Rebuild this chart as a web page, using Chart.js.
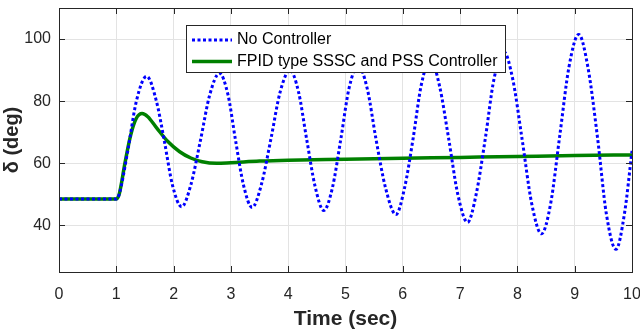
<!DOCTYPE html>
<html>
<head>
<meta charset="utf-8">
<script src="https://cdn.jsdelivr.net/npm/chart.js@4/dist/chart.umd.min.js"></script>
<style>
  html, body { margin: 0; padding: 0; background: #fff; }
  #wrap { width: 640px; height: 332px; }
</style>
</head>
<body>
<div id="wrap"><canvas id="rotor"></canvas></div>
<script>
// values
var noCtrlTime = [0, 1.0, 1.05, 1.2, 1.35, 1.53, 1.7, 1.84, 1.98, 2.14, 2.3, 2.47, 2.63, 2.8, 2.95,
    3.08, 3.22, 3.37, 3.53, 3.7, 3.86, 4.03, 4.18, 4.32, 4.47, 4.62, 4.77, 4.92, 5.06, 5.22,
    5.38, 5.53, 5.7, 5.88, 6.03, 6.18, 6.32, 6.48, 6.64, 6.8, 6.96, 7.13, 7.28, 7.44, 7.59,
    7.76, 7.92, 8.08, 8.25, 8.42, 8.58, 8.74, 8.9, 9.07, 9.23, 9.4, 9.55, 9.72, 9.87, 10.0];
var noCtrlDelta = [48.5, 48.5, 50, 64, 80, 88, 80, 67, 53, 46, 53, 67.5, 82, 89, 82,
    67.5, 53, 45.8, 53, 68, 83, 90, 83, 68, 52.5, 44.8, 52, 68, 84, 91.5,
    84, 68, 52, 43.5, 52, 68, 85, 93.5, 85, 68, 50, 41, 50, 68, 87,
    96, 87, 68, 47, 37.3, 47, 69, 91, 101.5, 91, 68, 44, 32.3, 44, 64];

var fpidTime = [0, 1.0, 1.05, 1.15, 1.25, 1.35, 1.45, 1.55, 1.7, 1.9, 2.1, 2.3, 2.5, 2.75,
    3.0, 3.5, 4.0, 5.0, 6.0, 7.0, 8.0, 9.0, 10.0];
var fpidDelta = [48.5, 48.5, 50, 60, 69, 74.5, 76, 75, 71.5, 67, 63.8, 61.7, 60.5, 60,
    60.2, 60.7, 61, 61.3, 61.6, 61.9, 62.2, 62.5, 62.7];

var seriesNames = ['No Controller', 'FPID type SSSC and PSS Controller'];
var xTicks = [0, 1, 2, 3, 4, 5, 6, 7, 8, 9, 10];
var yTicks = [40, 60, 80, 100];

function toPoints(xs, ys) {
    var pts = [];
    for (var i = 0; i < xs.length; i++) {
        pts.push({x: xs[i], y: ys[i]});
    }
    return pts;
}

var axisColor = '#262626';
var fontFam = '"Liberation Sans", Arial, sans-serif';

// MATLAB style box: frame plus inward tick marks
var boxPlugin = {
    id: 'box',
    afterDatasetsDraw: function(chart) {
        var ctx = chart.ctx, a = chart.chartArea;
        var xs = chart.scales.x, ys = chart.scales.y;
        ctx.save();
        ctx.strokeStyle = axisColor;
        ctx.lineWidth = 1;
        ctx.beginPath();
        xTicks.forEach(function(t) {
            var px = Math.round(xs.getPixelForValue(t)) + 0.5;
            ctx.moveTo(px, a.bottom); ctx.lineTo(px, a.bottom - 6);
            ctx.moveTo(px, a.top); ctx.lineTo(px, a.top + 6);
        });
        yTicks.forEach(function(t) {
            var py = Math.round(ys.getPixelForValue(t)) + 0.5;
            ctx.moveTo(a.left, py); ctx.lineTo(a.left + 6, py);
            ctx.moveTo(a.right, py); ctx.lineTo(a.right - 6, py);
        });
        ctx.stroke();
        ctx.strokeRect(Math.round(a.left) + 0.5, Math.round(a.top) + 0.5,
            Math.round(a.right - a.left), Math.round(a.bottom - a.top));
        ctx.restore();
    }
};

// legend box inside the axes
var legendPlugin = {
    id: 'boxLegend',
    afterDraw: function(chart) {
        var ctx = chart.ctx;
        var x0 = 186, y0 = 25, w = 319, h = 47;
        ctx.save();
        ctx.fillStyle = '#fff';
        ctx.fillRect(x0, y0, w, h);
        ctx.strokeStyle = axisColor;
        ctx.lineWidth = 1;
        ctx.strokeRect(x0 + 0.5, y0 + 0.5, w, h);
        ctx.font = '16px ' + fontFam;
        ctx.textBaseline = 'middle';
        chart.data.datasets.forEach(function(ds, i) {
            var cy = y0 + 15 + i * 21.5;
            ctx.strokeStyle = ds.borderColor;
            ctx.lineWidth = ds.borderWidth;
            ctx.setLineDash(ds.borderDash || []);
            ctx.beginPath();
            ctx.moveTo(x0 + 6, cy);
            ctx.lineTo(x0 + 46, cy);
            ctx.stroke();
            ctx.setLineDash([]);
            ctx.fillStyle = '#000';
            ctx.fillText(ds.label, x0 + 51, cy);
        });
        ctx.restore();
    }
};

var ctx = document.getElementById('rotor').getContext('2d');
var chart = new Chart(ctx, {
    type: 'line',
    data: {
        datasets: [{
            label: seriesNames[0],
            data: toPoints(noCtrlTime, noCtrlDelta),
            borderColor: '#0000ff',
            borderWidth: 3,
            borderDash: [3, 2.5],
            pointRadius: 0,
            cubicInterpolationMode: 'monotone',
            fill: false
        }, {
            label: seriesNames[1],
            data: toPoints(fpidTime, fpidDelta),
            borderColor: '#008000',
            borderWidth: 3.5,
            pointRadius: 0,
            cubicInterpolationMode: 'monotone',
            fill: false
        }]
    },
    options: {
        responsive: true,
        maintainAspectRatio: false,
        animation: false,
        layout: { padding: { top: 8, right: 8, left: 0, bottom: 0 } },
        plugins: {
            legend: { display: false },
            tooltip: { enabled: false }
        },
        scales: {
            x: {
                type: 'linear',
                min: 0,
                max: 10,
                afterBuildTicks: function(s) { s.ticks = xTicks.map(function(v) { return {value: v}; }); },
                afterFit: function(s) { s.height = 60; s.paddingLeft = 0; s.paddingRight = 0; },
                grid: { color: '#e3e3e3', drawTicks: false },
                border: { display: false },
                ticks: { color: axisColor, padding: 13, maxRotation: 0, font: { size: 16, family: fontFam } },
                title: {
                    display: true,
                    text: 'Time (sec)',
                    color: axisColor,
                    padding: { top: 1, bottom: 0 },
                    font: { size: 21, weight: 'bold', family: fontFam }
                }
            },
            y: {
                min: 25,
                max: 110,
                afterBuildTicks: function(s) { s.ticks = yTicks.map(function(v) { return {value: v}; }); },
                afterFit: function(s) { s.width = 59; s.paddingTop = 0; s.paddingBottom = 0; },
                grid: { color: '#e3e3e3', drawTicks: false },
                border: { display: false },
                ticks: { color: axisColor, padding: 8, font: { size: 16, family: fontFam } },
                title: {
                    display: true,
                    text: 'δ (deg)',
                    color: axisColor,
                    padding: { top: 0, bottom: 3 },
                    font: { size: 20, weight: 'bold', family: fontFam }
                }
            }
        }
    },
    plugins: [boxPlugin, legendPlugin]
});
</script>
</body>
</html>
